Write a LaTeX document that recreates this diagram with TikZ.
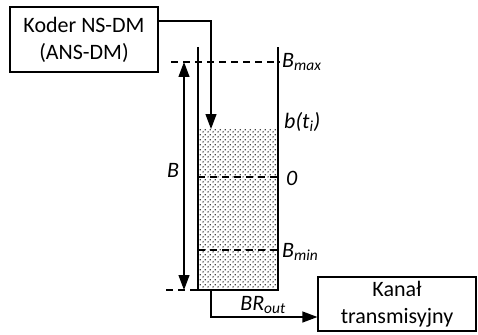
\documentclass[tikz,border=0pt]{standalone}
\usepackage{fontspec}
\setmainfont{Carlito}
\usetikzlibrary{arrows.meta,patterns.meta}
\tikzdeclarepattern{
  name=mydots,
  type=uncolored,
  bounding box={(0pt,0pt) and (4.6pt,4.6pt)},
  tile size={(4.6pt,4.6pt)},
  code={
    \pgfpathcircle{\pgfpoint{1.15pt}{1.15pt}}{0.75pt}
    \pgfpathcircle{\pgfpoint{3.45pt}{3.45pt}}{0.75pt}
    \pgfusepath{fill}
  }
}
\begin{document}
\begin{tikzpicture}[x=1pt,y=1pt,
  box/.style={draw,line width=1.2pt,align=center,inner sep=0pt,font=\fontsize{22}{27}\selectfont},
  lbl/.style={font=\fontsize{22}{26}\selectfont\itshape,inner sep=0pt},
  wire/.style={line width=1.2pt},
  arr/.style={line width=1.2pt,-{Triangle[length=15pt,width=11pt]}},
  dashline/.style={line width=1.2pt,dash pattern=on 7pt off 5pt}]
\useasboundingbox (0,0) rectangle (478,-334);
% boxes
\node[box,minimum width=148pt,minimum height=65pt] (coder) at (84,-39.5) {Koder NS-DM\\(ANS-DM)};
\node[box,minimum width=158pt,minimum height=54pt] (kanal) at (397,-304) {Kanał\\transmisyjny};
% fill
\fill[pattern=mydots,pattern color=black] (198,-129) rectangle (278,-290);
% container
\coordinate (tl) at (198,-47);
\coordinate (bl) at (198,-290);
\coordinate (br) at (278,-290);
\coordinate (tr) at (278,-47);
\draw[wire] (tl) -- (bl) -- (br) -- (tr);
% dashed levels
\coordinate (bmaxL) at (171,-62);
\coordinate (bmaxR) at (280,-62);
\draw[dashline] (bmaxL) -- (bmaxR);
\coordinate (zeroL) at (198,-177);
\coordinate (zeroR) at (278,-177);
\draw[dashline] (zeroL) -- (zeroR);
\coordinate (bminL) at (198,-250);
\coordinate (bminR) at (278,-250);
\draw[dashline] (bminL) -- (bminR);
\coordinate (botL) at (166,-290);
\draw[dashline] (botL) -- (bl);
% B arrow
\coordinate (Btop) at (184,-62);
\coordinate (Bbot) at (184,-290);
\draw[line width=1.2pt,{Triangle[length=15pt,width=11pt]}-{Triangle[length=15pt,width=11pt]}] (Btop) -- (Bbot);
% input arrow
\coordinate (level) at (211,-129);
\draw[arr] (coder.east |- 0,-21) -| (level);
% output arrow
\coordinate (outl) at (211,-290);
\draw[arr] (outl) |- (kanal.west |- 0,-317);
% labels
\node[lbl,anchor=west] (lbmax) at (282,-62) {B\textsubscript{max}};
\node[lbl,anchor=west] (lbt) at (284,-122) {b(t\textsubscript{i})};
\node[lbl,anchor=west] (lzero) at (286,-178) {0};
\node[lbl,anchor=west] (lbmin) at (282,-252) {B\textsubscript{min}};
\node[lbl] (lB) at (173,-170) {B};
\node[lbl] (lbr) at (263,-305) {BR\textsubscript{out}};
\end{tikzpicture}
\end{document}
